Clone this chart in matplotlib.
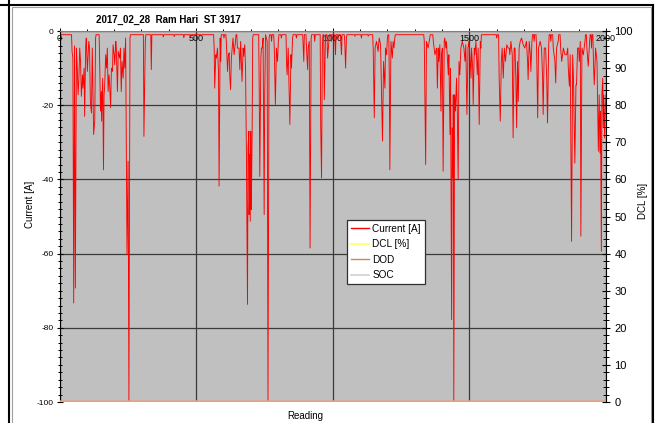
import numpy as np
import matplotlib.pyplot as plt
from matplotlib.ticker import MultipleLocator
from matplotlib.lines import Line2D
from matplotlib.patches import Rectangle

plt.rcParams['font.family'] = ['Liberation Sans', 'DejaVu Sans']
plt.rcParams['axes.unicode_minus'] = False

title = "2017_02_28  Ram Hari  ST 3917"
n_readings = 2000
idle_current = -1.0  # current level between discharge bursts

# readings where the current dips, and the current at that reading [A]
dip_reading = [
    46, 49, 52, 55, 58, 62, 65, 68, 71, 74, 77,
    80, 84, 86, 90, 92, 96, 98, 102, 107, 110,
    113, 117, 120, 125, 129, 132, 147, 150, 153, 154,
    158, 161, 163, 165, 169, 172, 175, 178, 181, 184,
    187, 190, 194, 196, 200, 202, 206, 208, 212, 215,
    220, 223, 226, 229, 233, 236, 239, 242, 247, 251,
    254, 258, 309, 314, 336, 380, 420, 455, 480, 520,
    566, 568, 572, 574, 578, 582, 584, 588, 590, 602,
    611, 615, 618, 621, 623, 626, 629, 632, 635, 639,
    644, 651, 657, 660, 663, 668, 672, 674, 678, 681,
    684, 688, 690, 693, 694, 695, 696, 698, 699, 700,
    701, 702, 705, 707, 731, 733, 737, 739, 742, 745,
    749, 751, 754, 760, 763, 767, 776, 786, 790, 794,
    798, 801, 812, 831, 833, 837, 843, 847, 849, 853,
    867, 892, 894, 904, 908, 910, 914, 917, 921, 934,
    956, 959, 962, 969, 973, 981, 986, 995, 1008, 1010,
    1020, 1030, 1032, 1044, 1047, 1050, 1081, 1105, 1130, 1148,
    1152, 1155, 1160, 1166, 1170, 1175, 1178, 1182, 1186, 1191,
    1193, 1197, 1200, 1207, 1209, 1213, 1218, 1221, 1224, 1227,
    1335, 1340, 1343, 1349, 1355, 1368, 1374, 1380, 1383, 1386,
    1388, 1392, 1396, 1398, 1401, 1404, 1408, 1410, 1414, 1416,
    1420, 1423, 1425, 1429, 1431, 1435, 1437, 1440, 1441, 1443,
    1446, 1449, 1453, 1456, 1459, 1462, 1465, 1469, 1474, 1480,
    1484, 1487, 1491, 1495, 1498, 1502, 1506, 1508, 1512, 1514,
    1518, 1520, 1524, 1529, 1532, 1536, 1540, 1542, 1600, 1609,
    1613, 1617, 1620, 1624, 1628, 1632, 1637, 1642, 1646, 1648,
    1652, 1657, 1660, 1664, 1667, 1670, 1673, 1676, 1679, 1682,
    1686, 1691, 1697, 1703, 1709, 1713, 1715, 1719, 1723, 1725,
    1729, 1737, 1746, 1750, 1753, 1759, 1764, 1768, 1770, 1774,
    1779, 1783, 1786, 1790, 1798, 1807, 1813, 1816, 1819, 1825,
    1834, 1838, 1844, 1850, 1856, 1860, 1862, 1866, 1869, 1874,
    1878, 1881, 1886, 1890, 1892, 1896, 1900, 1902, 1906, 1908,
    1912, 1917, 1923, 1930, 1935, 1940, 1947, 1954, 1957, 1962,
    1967, 1972, 1975, 1978, 1980, 1983, 1985, 1988, 1990, 1992,
    1995, 1997, 2000,
]
dip_current = [
    -5.5, -7.3, -73.3, -4.0, -69.3, -4.6, -10, -17.2, -12.7, -4.6, -8.2,
    -17.6, -11.8, -15.4, -10, -23, -3.7, -1.9, -10.9, -2.8, -4.6,
    -19.4, -22.1, -4.6, -27.9, -24.3, -1.9, -8.2, -21.6, -16.3, -24.3,
    -12.7, -37.4, -17.2, -15.4, -6.4, -10, -4.6, -16.3, -11.8, -15,
    -20.7, -10, -10.9, -3.7, -6.4, -9.1, -2.8, -4.6, -16.3, -5.5,
    -7.3, -4.6, -16.3, -8.2, -12.7, -4.6, -10, -1.9, -60.3, -35.1,
    -100, -1.9, -28.4, -2.8, -10.4, -1.6, -1.5, -1.8, -1.5, -1.4,
    -4.6, -15.4, -6.4, -7.3, -4.6, -10.9, -41.8, -1.9, -8.2, -1.9,
    -3.7, -10.9, -6.4, -5.9, -11.8, -15.8, -7.3, -4.6, -1.9, -6.4,
    -2.8, -4.6, -4.6, -10.4, -2.8, -13.6, -4.6, -6.8, -3.7, -10.9,
    -32.9, -73.7, -31.5, -27, -49.5, -45.9, -33.3, -51.3, -36.9, -27,
    -42.3, -48.1, -27.9, -1.9, -17.2, -39.2, -7.3, -4.6, -4.6, -1.9,
    -49.5, -17.2, -1, -2.8, -100, -1.9, -2.8, -4.6, -19.8, -4.6,
    -8.2, -2.8, -1.9, -9.1, -11.8, -4.6, -25.2, -6.4, -10, -1.9,
    -1.9, -4.6, -8.2, -4.6, -10.4, -4.6, -2.8, -58.5, -1.9, -2.8,
    -26.1, -39.6, -4.6, -18.5, -2.8, -7.3, -2.8, -2.8, -2.8, -6.4,
    -1.9, -3.7, -6.4, -2.8, -10, -1.9, -1.4, -1.9, -1.4, -4.6,
    -23.4, -4.6, -2.8, -5.5, -1.9, -3.7, -15.4, -29.7, -8.2, -15.4,
    -4.6, -6.4, -1.9, -12.7, -37.4, -2.8, -7.3, -2.8, -4.6, -1.9,
    -2.8, -36, -2.8, -4.6, -1.9, -2.8, -6.4, -4.6, -15.4, -4.6,
    -8.2, -3.7, -21.6, -6.4, -4.6, -37.8, -2.8, -1.9, -4.6, -2.8,
    -8.2, -11.8, -6.4, -27.9, -10, -77.8, -26.1, -39.6, -17.2, -100,
    -17.2, -21.6, -12.7, -22.5, -40.1, -8.2, -11.8, -4.6, -2.8, -4.6,
    -8.2, -3.7, -22.5, -4.6, -2.8, -6.4, -12.7, -4.6, -10, -19.8,
    -4.6, -6.4, -2.8, -11.8, -4.6, -25.2, -2.8, -4.6, -1.9, -12.7,
    -24.3, -8.2, -4.6, -12.7, -4.6, -8.2, -3.7, -4.6, -4.6, -6.4,
    -2.8, -6.4, -28.8, -4.6, -4.6, -12.7, -26.1, -8.2, -19, -4.6,
    -2.8, -1.9, -3.7, -4.6, -2.8, -8.2, -13.1, -2.8, -6.4, -10.9,
    -2.8, -2.8, -4.6, -23.4, -4.6, -2.8, -4.6, -12.7, -22.5, -4.6,
    -4.6, -12.7, -24.8, -4.6, -2.8, -4.6, -8.2, -14, -4.6, -2.8,
    -4.6, -8.2, -4.6, -6.4, -6.4, -4.6, -10, -14.9, -6.4, -56.7,
    -6.4, -12.7, -35.6, -14.5, -14.5, -4.6, -4.6, -8.2, -2.8, -55.3,
    -4.6, -6.4, -2.8, -4.6, -9.5, -2.8, -4.6, -8.2, -14.5, -4.6,
    -8.2, -32.4, -17.2, -32.9, -21.6, -59.4, -17.2, -12.7, -26.1, -17.2,
    -28.8, -21.6, -17.2,
]
assert len(dip_reading) == len(dip_current)

# DCL, DOD and SOC stay at 0 % for the whole log
dcl_pct = 0.0
dod_pct = 0.0
soc_pct = 0.0

# current trace: dips are joined directly inside a burst, idle level in the quiet stretches
trace_x, trace_y = [0], [idle_current]
prev = 0
for r, c in zip(dip_reading, dip_current):
    if r - prev > 6:
        trace_x += [prev + 2, r - 2]
        trace_y += [idle_current, idle_current]
    trace_x.append(r)
    trace_y.append(c)
    prev = r
if prev < n_readings:
    trace_x.append(n_readings)
    trace_y.append(idle_current)

readings = np.arange(0, n_readings + 1)

W, H = 659, 423
fig = plt.figure(figsize=(W / 100, H / 100), dpi=100)
fig.patch.set_facecolor('white')

# outer sheet lines and chart-area border
fig.add_artist(Line2D([0, 653 / W], [1 - 4.7 / H] * 2, color='black', lw=1.5, transform=fig.transFigure))
fig.add_artist(Line2D([9.3 / W] * 2, [0, 1], color='black', lw=1.5, transform=fig.transFigure))
fig.add_artist(Line2D([652.7 / W] * 2, [0, 1 - 4.7 / H], color='black', lw=1.5, transform=fig.transFigure))
fig.add_artist(Rectangle((12 / W, -0.01), (650.5 - 12) / W, 1 - 7.5 / H + 0.01, fill=False,
                         edgecolor='#A0A0A0', lw=0.8, transform=fig.transFigure))

ax = fig.add_axes([59.5 / W, 1 - 402 / H, (606 - 59.5) / W, (402 - 31) / H])
ax.set_facecolor('#C0C0C0')
ax.plot(trace_x, trace_y, color='#FF0000', lw=0.65, label='Current [A]')
ax.set_xlim(0, n_readings)
ax.set_ylim(-100, 0)

ax.xaxis.set_major_locator(MultipleLocator(500))
ax.xaxis.set_minor_locator(MultipleLocator(100))
ax.yaxis.set_major_locator(MultipleLocator(20))
ax.yaxis.set_minor_locator(MultipleLocator(2))
ax.xaxis.tick_top()
ax.tick_params(axis='x', which='major', direction='out', length=2.5, width=0.7, labelsize=6.5, pad=-11)
ax.tick_params(axis='x', which='minor', direction='out', length=1.8, width=0.7)
ax.tick_params(axis='y', which='major', direction='inout', length=5, width=0.8, labelsize=6, pad=2)
ax.tick_params(axis='y', which='minor', direction='inout', length=3.5, width=0.7)
ax.grid(True, which='major', color='#3a3a3a', lw=0.9)

ax.spines['bottom'].set_visible(False)
ax.spines['right'].set_visible(False)
ax.spines['top'].set_color('#808080')
ax.spines['top'].set_linewidth(0.8)
ax.spines['left'].set_linewidth(0.8)

twin = ax.twinx()
twin.set_ylim(0, 100)
twin.plot(readings, np.full(readings.shape, soc_pct), color='#D0D0D0', lw=1.5, label='SOC')
twin.plot(readings, np.full(readings.shape, dcl_pct), color='#FFFF80', lw=1.5, label='DCL [%]')
twin.plot(readings, np.full(readings.shape, dod_pct), color='#E8A080', lw=2.4, label='DOD')
twin.yaxis.set_major_locator(MultipleLocator(10))
twin.yaxis.set_minor_locator(MultipleLocator(2))
twin.tick_params(which='major', direction='inout', length=6, width=0.8, labelsize=8, pad=3)
twin.tick_params(which='minor', direction='inout', length=4, width=0.7)
for side in ['top', 'bottom', 'left']:
    twin.spines[side].set_visible(False)
twin.spines['right'].set_linewidth(0.8)

handles = [
    Line2D([], [], color='#FF0000', lw=1),
    Line2D([], [], color='#FFFF80', lw=1.5),
    Line2D([], [], color='#D08858', lw=1),
    Line2D([], [], color='#D0D0D0', lw=1.2),
]
leg = twin.legend(handles, ['Current [A]', 'DCL [%]', 'DOD', 'SOC'], loc='upper left',
                  bbox_to_anchor=(0.526, 0.491), frameon=True, fancybox=False,
                  edgecolor='#303030', facecolor='white', framealpha=1, fontsize=7.2,
                  handlelength=1.8, handletextpad=0.35, labelspacing=0.55,
                  borderpad=0.4, borderaxespad=0)
leg.get_frame().set_linewidth(0.9)

fig.text(168 / W, 1 - 20 / H, title, ha='center', va='center', fontsize=7, fontweight='bold')
fig.text(30 / W, 1 - 204 / H, 'Current [A]', rotation=90, ha='center', va='center', fontsize=7)
fig.text(643 / W, 1 - 201 / H, 'DCL [%]', rotation=90, ha='center', va='center', fontsize=7)
fig.text(305 / W, 1 - 416 / H, 'Reading', ha='center', va='center', fontsize=7)

fig.savefig('out.png', dpi=100)
